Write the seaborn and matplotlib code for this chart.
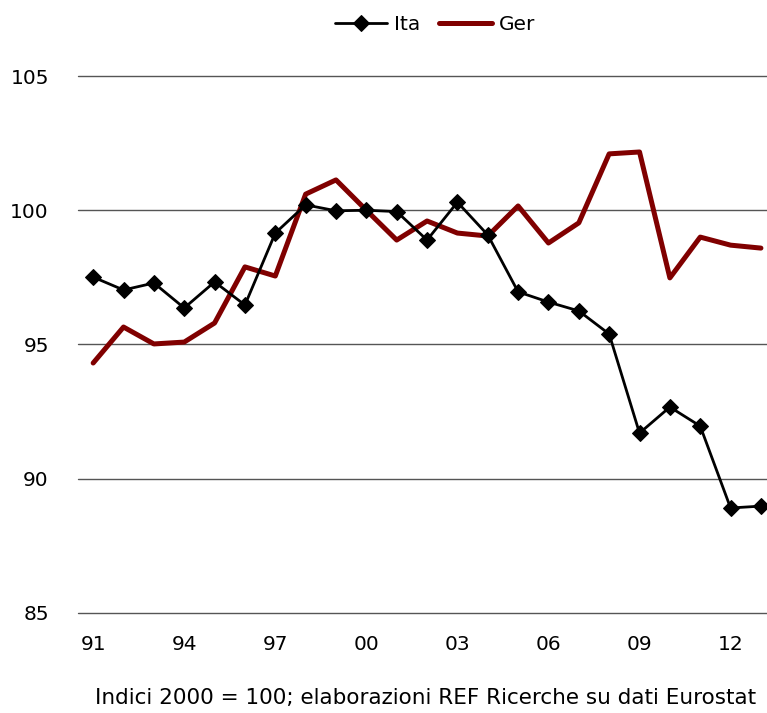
import matplotlib
matplotlib.use("Agg")
import matplotlib.pyplot as plt
import pandas as pd
import seaborn as sns

years = list(range(1991, 2014))
tick_years = [1991, 1994, 1997, 2000, 2003, 2006, 2009, 2012]
tick_labels = ["91", "94", "97", "00", "03", "06", "09", "12"]

ita = [97.51, 97.03, 97.29, 96.36, 97.33, 96.47, 99.15, 100.2, 99.98, 100.0,
       99.95, 98.89, 100.3, 99.08, 96.96, 96.58, 96.25, 95.39, 91.70, 92.67,
       91.96, 88.91, 88.98]
ger = [94.31, 95.65, 95.02, 95.09, 95.80, 97.89, 97.55, 100.6, 101.13, 100.0,
       98.89, 99.6, 99.15, 99.04, 100.16, 98.78, 99.53, 102.1, 102.17, 97.48,
       99.0, 98.7, 98.59]

df = pd.DataFrame({"anno": years, "Ita": ita, "Ger": ger})

sns.set_theme(style="white")
plt.rcParams["font.family"] = ["DejaVu Sans"]
plt.rcParams["text.color"] = "black"

fig = plt.figure(figsize=(7.67, 7.13), dpi=100)
ax = fig.add_axes([0.1017, 0.1403, 0.8983, 0.7531])

# Ita sopra la linea tedesca
sns.lineplot(data=df, x="anno", y="Ita", ax=ax, color="black", linewidth=2,
             marker="D", markersize=8.5, markeredgecolor="black", label="Ita",
             zorder=4)
sns.lineplot(data=df, x="anno", y="Ger", ax=ax, color="#800000", linewidth=3.6,
             label="Ger", zorder=3)

ax.set_xlim(1990.5, 2013.2)
ax.set_ylim(85, 105)
ax.set_yticks([85, 90, 95, 100, 105])
ax.set_xticks(tick_years)
ax.set_xticklabels(tick_labels)
ax.yaxis.grid(True, color="#555555", linewidth=1)
ax.xaxis.grid(False)
for gl in ax.get_ygridlines():
    gl.set_clip_on(False)
for s in ax.spines.values():
    s.set_visible(False)
ax.tick_params(axis="both", labelsize=14.5, colors="black", length=0)
ax.tick_params(axis="y", pad=21)
ax.tick_params(axis="x", pad=16)
ax.set_xlabel("")
ax.set_ylabel("")

ax.legend(loc="center", bbox_to_anchor=(0.567, 0.966), bbox_transform=fig.transFigure,
          ncol=2, frameon=False, fontsize=14.5, handlelength=2.6,
          handletextpad=0.35, columnspacing=0.95)

fig.text(0.555, 0.012, "Indici 2000 = 100; elaborazioni REF Ricerche su dati Eurostat",
         ha="center", va="baseline", fontsize=15.5)

fig.savefig("out.png", dpi=100)
